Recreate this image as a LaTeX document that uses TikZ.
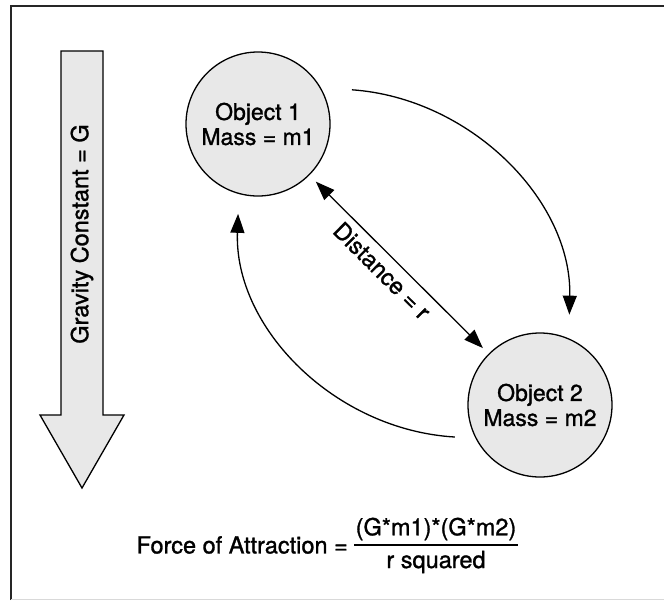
\documentclass[tikz,border=0pt]{standalone}
\usepackage{fontspec}
\setmainfont{TeX Gyre Heros}[FakeBold=1.2]
\usetikzlibrary{arrows.meta,calc}
\begin{document}
\begin{tikzpicture}[x=1pt,y=-1pt,
  txt/.style={font=\fontsize{23.5}{25}\selectfont, align=center, inner sep=1pt},
  body/.style={circle, draw=black, line width=1.3pt, fill=black!9, minimum size=144pt, inner sep=0pt, font=\fontsize{23}{25}\selectfont, align=center},
  conn/.style={line width=1.3pt},
  tip/.style={-{Triangle[length=19pt,width=14pt]}}
]
\useasboundingbox (0,0) rectangle (664,600);
\fill[white] (0,0) rectangle (664,600);
% frame
\draw[line width=2pt, black!85] (11,600) -- (11,6) -- (664,6);
\draw[line width=0.6pt, black!15] (11,599.5) -- (664,599.5);
% gravity arrow
\draw[line width=1.3pt, fill=black!9, line join=miter]
  (61,51) -- (103,51) -- (103,415) -- (124,415) -- (82,488) -- (40,415) -- (61,415) -- cycle;
\node[txt, rotate=90] (grav) at (82,234) {Gravity Constant = G};
% bodies
\node[body] (o1) at (258,124) {Object 1\\Mass = m1};
\node[body] (o2) at (540,405) {Object 2\\Mass = m2};
% distance
\draw[conn, {Triangle[length=19pt,width=14pt]}-{Triangle[length=19pt,width=14pt]}, shorten <=9pt, shorten >=8pt]
  (o1) -- node[txt, sloped, below=6pt, pos=0.47] (dist) {Distance = r} (o2);
% curved arrows
\coordinate (r1) at ([shift={(20:100pt)}]o1.center);
\coordinate (r2) at ([shift={(72:95pt)}]o2.center);
\coordinate (l1) at ([shift={(200.6:91pt)}]o2.center);
\coordinate (l2) at ([shift={(257.5:92pt)}]o1.center);
\draw[conn, tip] (r1) .. controls (470,98) and (572,200) .. (r2);
\draw[conn, tip] (l1) .. controls (335,430) and (234,328) .. (l2);
% formula
\node[txt, anchor=east] (force) at (349,545) {Force of Attraction =};
\node[txt] (num) at (436,529) {(G*m1)*(G*m2)};
\node[txt] (den) at (436,562) {r squared};
\draw[line width=1.1pt] (354,545) -- (518,545);
\end{tikzpicture}
\end{document}
